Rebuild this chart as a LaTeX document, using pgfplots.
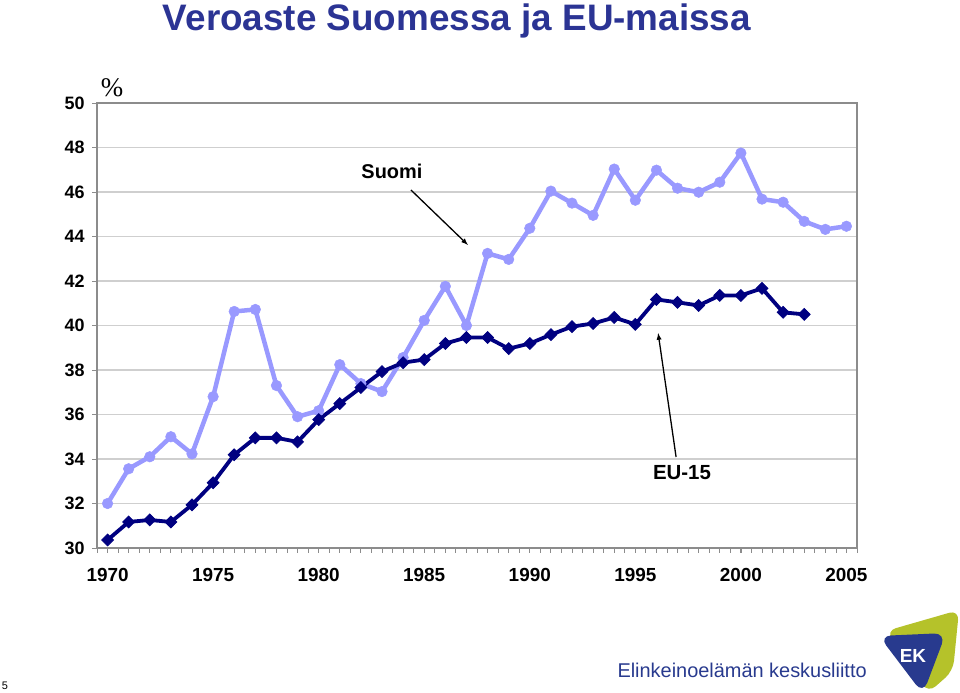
\documentclass[border=0pt]{standalone}
\usepackage{pgfplots}
\pgfplotsset{compat=1.18}
\usepackage{fontspec}
\setmainfont{Liberation Sans}
\newfontfamily\seriffont{Liberation Serif}
\definecolor{titleblue}{HTML}{2B3494}
\definecolor{suomi}{HTML}{9999FF}
\definecolor{eu}{HTML}{000080}
\definecolor{gridgray}{HTML}{CFCFCF}
\definecolor{axgray}{HTML}{8C8C8C}
\definecolor{ekblue}{HTML}{283A8E}
\definecolor{ekgreen}{HTML}{B5C22A}
\begin{document}
\begin{tikzpicture}[x=1bp,y=1bp]
\useasboundingbox (0,0) rectangle (960,693);
\begin{axis}[
  at={(97bp,145bp)}, anchor=south west,
  scale only axis, width=760bp, height=445bp,
  xmin=1969.5, xmax=2005.5, ymin=30, ymax=50,
  xtick={1970,1975,...,2005}, minor xtick={1969.5,1970,...,2005.5},
  ytick={30,32,...,50},
  ymajorgrids, major grid style={gridgray, line width=1.3bp},
  axis line style={axgray, line width=1.2bp},
  tick align=outside, xtick pos=bottom, ytick pos=left,
  major tick length=5bp, minor tick length=5bp,
  tick style={axgray, line width=0.8bp},
  /pgf/number format/assume math mode=true,
  /pgf/number format/1000 sep={},
  xticklabel style={font=\bfseries\fontsize{19}{19}\selectfont, yshift=-12bp},
  yticklabel style={font=\bfseries\fontsize{18}{18}\selectfont, xshift=-4bp},
  clip=false,
]
\addplot[suomi, line width=4.5bp, mark=*, mark size=5.3bp, mark options={solid, fill=suomi, draw=suomi, line width=0.5bp}] coordinates {
(1970,32.0) (1971,33.56) (1972,34.1) (1973,35.0) (1974,34.23) (1975,36.8)
(1976,40.63) (1977,40.72) (1978,37.3) (1979,35.9) (1980,36.17) (1981,38.24)
(1982,37.39) (1983,37.03) (1984,38.56) (1985,40.23) (1986,41.76) (1987,40.0)
(1988,43.24) (1989,42.97) (1990,44.37) (1991,46.04) (1992,45.5) (1993,44.95)
(1994,47.03) (1995,45.63) (1996,46.98) (1997,46.17) (1998,45.99) (1999,46.44)
(2000,47.75) (2001,45.68) (2002,45.54) (2003,44.68) (2004,44.32) (2005,44.46)
};
\addplot[eu, line width=3.8bp, mark=square*, mark size=4.2bp, mark options={solid, rotate=45, fill=eu, draw=eu, line width=0.8bp}] coordinates {
(1970,30.36) (1971,31.17) (1972,31.26) (1973,31.17) (1974,31.94) (1975,32.93)
(1976,34.19) (1977,34.95) (1978,34.95) (1979,34.77) (1980,35.77) (1981,36.49)
(1982,37.21) (1983,37.93) (1984,38.33) (1985,38.47) (1986,39.19) (1987,39.46)
(1988,39.46) (1989,38.96) (1990,39.19) (1991,39.59) (1992,39.95) (1993,40.09)
(1994,40.36) (1995,40.05) (1996,41.17) (1997,41.04) (1998,40.9) (1999,41.35)
(2000,41.35) (2001,41.67) (2002,40.59) (2003,40.5)
};
\node[font=\bfseries\fontsize{20}{20}\selectfont] at (axis cs:1983.47,46.94) {Suomi};
\draw[-latex, line width=1.3bp] (axis cs:1984.37,46.09) -- (axis cs:1987.07,43.62);
\node[font=\bfseries\fontsize{20.5}{20.5}\selectfont] at (axis cs:1997.21,33.37) {EU-15};
\draw[-latex, line width=1.3bp] (axis cs:1996.93,34.09) -- (axis cs:1996.08,39.66);
\end{axis}
\node[titleblue, font=\bfseries\fontsize{37}{37}\selectfont] at (457,672) {Veroaste Suomessa ja EU-maissa};
\node[font=\seriffont\fontsize{27}{27}\selectfont] at (112,605) {\%};
\node[ekblue, font=\fontsize{20}{20}\selectfont, anchor=west] at (614,23) {Elinkeinoelämän keskusliitto};
\fill[ekgreen, rounded corners=10bp] (886,62) -- (959,83) -- (953,22) -- (928,0) -- cycle;
\fill[ekblue, rounded corners=12bp] (879,57) -- (946,60) -- (923,-1) -- cycle;
\node[white, font=\bfseries\fontsize{19}{19}\selectfont] at (913,37) {EK};
\node[font=\fontsize{11}{11}\selectfont] at (5,7) {5};
\end{tikzpicture}
\end{document}
